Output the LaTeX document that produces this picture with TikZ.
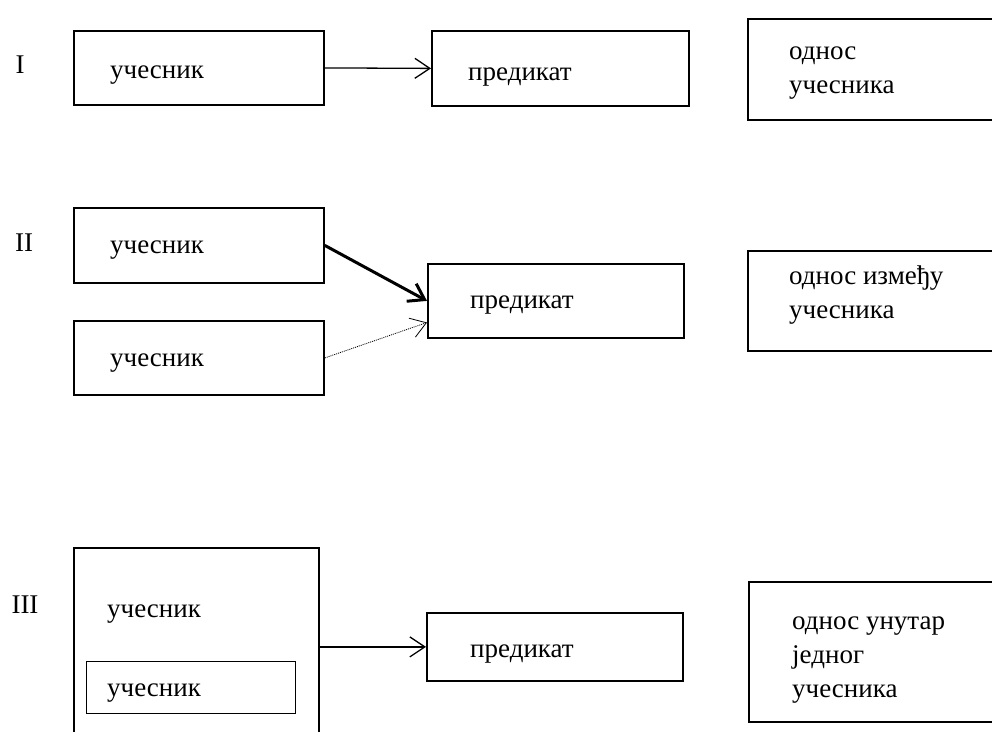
\documentclass[tikz,border=0pt]{standalone}
\usepackage{fontspec}
\setmainfont{Liberation Serif}
\usetikzlibrary{calc,arrows.meta}
\tikzset{>={Straight Barb[length=15pt,width=20pt]},
  box/.style={draw, line width=1.8pt, anchor=north west, inner sep=0pt},
  txt/.style={anchor=base west, inner sep=0pt, align=left}}

\begin{document}
\begin{tikzpicture}[x=1pt,y=-1pt,font=\fontsize{27}{34}\selectfont]
    \useasboundingbox (0,0) rectangle (992,731);
    \clip (0,0) rectangle (992,731);
    % type labels
    \node[inner sep=0pt] (t1) at (20,65) {I};
    \node[inner sep=0pt] (t2) at (24,243) {II};
    \node[inner sep=0pt] (t3) at (25,605) {III};
    % I
    \node[box, minimum width=250pt, minimum height=74pt] (u1) at (73,30) {};
    \node[box, minimum width=257pt, minimum height=75pt] (p1) at (431,30) {};
    \node[box, minimum width=284pt, minimum height=101pt] (r1) at (747,18) {};
    \node[txt] (u1t) at (110,78) {учесник};
    \node[txt] (p1t) at (468,80) {предикат};
    \node[txt] (r1t) at (789,93) {однос\\учесника}; % base = last line
    \draw[->, line width=1.3pt] (u1.east) -- (p1.west);
    % II
    \node[box, minimum width=250pt, minimum height=75pt] (u2a) at (73,207) {};
    \node[box, minimum width=250pt, minimum height=74pt] (u2b) at (73,320) {};
    \node[box, minimum width=256pt, minimum height=74pt] (p2) at (427,263) {};
    \node[box, minimum width=284pt, minimum height=100pt] (r2) at (747,250) {};
    \node[txt] (u2at) at (110,253) {учесник};
    \node[txt] (u2bt) at (110,366) {учесник};
    \node[txt] (p2t) at (470,308) {предикат};
    \node[txt] (r2t) at (789,318) {однос између\\учесника};
    \draw[->, line width=3pt] (u2a.east) -- (p2.west);
    \draw[->, line width=0.8pt, dash pattern=on 1pt off 1pt] (u2b.east) -- ($(p2.west)!0.57!(p2.south west)$);
    % III
    \node[box, minimum width=245pt, minimum height=230pt] (u3) at (73,547) {};
    \node[box, line width=0.9pt, minimum width=209pt, minimum height=52pt] (u3i) at (86,661) {};
    \node[box, minimum width=256pt, minimum height=68pt] (p3) at (426,612) {};
    \node[box, minimum width=284pt, minimum height=140pt] (r3) at (748,581) {};
    \node[txt] (u3t) at (107,617) {учесник};
    \node[txt] (u3it) at (107,696) {учесник};
    \node[txt] (p3t) at (470,657) {предикат};
    \node[txt] (r3t) at (792,697) {однос унутар\\једног\\учесника};
    \draw[->, line width=1.3pt] (u3.east |- p3.west) -- (p3.west);
\end{tikzpicture}
\end{document}
